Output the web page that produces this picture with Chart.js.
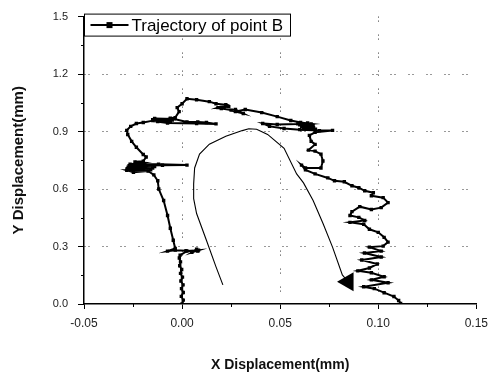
<!DOCTYPE html>
<html><head><meta charset="utf-8">
<script src="https://cdn.jsdelivr.net/npm/chart.js@4/dist/chart.umd.min.js"></script>
<style>html,body{margin:0;padding:0;background:#fff}#wrap{width:495px;height:374px}</style>
</head><body><div id="wrap"><canvas id="c" width="495" height="374"></canvas></div>
<script>
const seriesName = 'Trajectory of point B';
const xTitle = 'X Displacement(mm)';
const yTitle = 'Y Displacement(mm)';
const xTicks = [-0.05, 0.00, 0.05, 0.10, 0.15];
const yTicks = [0.0, 0.3, 0.6, 0.9, 1.2, 1.5];
const xMinor = [-0.025, 0.025, 0.075, 0.125];
const yMinor = [0.15, 0.45, 0.75, 1.05, 1.35];

// main (dense, marked) trajectory
const pathX = [
 0.000,0.0006,-0.0004,0.0006,-0.0003,0.0005,-0.0006,0.0002,-0.0008,-0.0002,-0.0012,-0.0008,-0.0014,-0.001,
 0.0025,0.0084,0.0050,0.0074,0.0080,0.0020,-0.0035,-0.0074,-0.0035,
 -0.0045,-0.006,-0.0074,-0.0094,-0.0119,-0.0124,-0.0144,
 -0.0173,-0.0248,-0.0282,-0.0160,-0.0280,-0.0150,-0.0275,-0.0140,-0.0270,-0.0100,0.0025,-0.0120,-0.0265,-0.0200,-0.0240,-0.0198,
 -0.0183,-0.0198,-0.0233,-0.0257,-0.0277,-0.0282,-0.0262,-0.0233,-0.0198,
 -0.0149,-0.0060,-0.0150,-0.0050,-0.0140,-0.0040,0.0025,0.0080,0.0124,0.0173,0.0074,-0.0074,-0.0124,-0.0060,
 -0.0035,-0.0015,-0.0025,0.000,0.0025,0.0074,0.0139,
 0.0173,0.0223,0.0183,0.0238,0.0200,0.0250,0.0272,0.0312,0.0272,0.0322,
 0.0406,0.0485,0.0554,0.0604,0.0658,0.0600,0.0668,0.0610,0.0670,0.0620,0.0680,0.0640,0.0590,
 0.0485,0.0411,0.0446,0.0520,0.0600,0.0700,0.0767,0.0678,
 0.0649,0.0658,0.0678,0.0644,0.0678,0.0708,0.0718,0.0708,0.0629,0.0609,0.0629,
 0.0678,0.0743,0.0777,0.0827,0.0866,0.0901,0.0931,0.0975,0.0965,0.1025,0.1050,0.1015,0.0965,
 0.0906,0.0866,0.0856,0.0901,0.0931,0.0856,0.0926,0.0955,0.1000,0.1030,0.1050,0.1025,0.0955,0.1015,0.0930,0.1015,0.0916,0.0995,0.0955,0.0896,
 0.0965,0.1030,0.0965,0.1050,0.0926,0.0980,0.1030,0.1080,0.1104,0.1114];
const pathY = [
 0.000,0.020,0.040,0.060,0.080,0.100,0.120,0.140,0.160,0.180,0.200,0.220,0.240,0.255,
 0.276,0.281,0.270,0.286,0.276,0.278,0.281,0.276,0.290,
 0.333,0.395,0.462,0.540,0.600,0.643,0.674,
 0.694,0.688,0.698,0.700,0.706,0.710,0.714,0.718,0.722,0.724,0.725,0.730,0.730,0.738,0.742,0.745,
 0.767,0.780,0.818,0.849,0.885,0.906,0.927,0.942,0.947,
 0.957,0.952,0.962,0.960,0.968,0.966,0.950,0.950,0.947,0.940,0.942,0.945,0.952,0.970,
 0.973,1.004,1.025,1.045,1.071,1.066,1.056,
 1.045,1.040,1.025,1.030,1.020,1.012,1.015,0.994,1.004,1.015,
 0.999,0.978,0.958,0.947,0.940,0.935,0.930,0.925,0.920,0.915,0.912,0.945,0.940,
 0.937,0.942,0.927,0.916,0.910,0.905,0.906,0.896,
 0.880,0.849,0.833,0.803,0.798,0.782,0.746,0.710,0.710,0.725,0.700,
 0.679,0.658,0.643,0.638,0.617,0.607,0.591,0.581,0.565,0.555,0.529,0.503,0.493,
 0.508,0.482,0.462,0.452,0.436,0.426,0.416,0.390,0.374,0.348,0.323,0.302,0.297,0.276,0.266,0.245,0.230,0.209,0.188,0.173,
 0.163,0.142,0.126,0.111,0.090,0.080,0.059,0.039,0.018,0.003];

// thin arched curve ending in the arrow-like mark
const curveX = [0.0208,0.0173,0.0124,0.0074,0.0059,0.0059,0.0064,0.0089,0.0139,0.0223,0.0307,0.0340,0.0380,0.0436,0.0520,0.0584,0.0619,0.0668,0.0718,0.0767,0.0817,0.0846];
const curveY = [0.100,0.194,0.333,0.472,0.550,0.627,0.710,0.782,0.834,0.875,0.905,0.915,0.912,0.885,0.813,0.679,0.632,0.540,0.421,0.297,0.152,0.116];

const FONT = "'Liberation Sans', Arial, sans-serif";
const toPts = (xs, ys) => xs.map((x, i) => ({x, y: ys[i]}));
const isArrow = c => c.dataIndex === curveX.length - 1;

const extras = {
  id: 'extras',
  afterDatasetsDraw(chart) {
    const ctx = chart.ctx, xs = chart.scales.x, ys = chart.scales.y;
    const a = chart.chartArea;
    ctx.save();
    ctx.strokeStyle = '#000'; ctx.lineWidth = 1;
    ctx.beginPath();
    yMinor.forEach(v => { const p = Math.round(ys.getPixelForValue(v)) + 0.5; ctx.moveTo(a.left - 3, p); ctx.lineTo(a.left, p); });
    xMinor.forEach(v => { const p = Math.round(xs.getPixelForValue(v)) + 0.5; ctx.moveTo(p, a.bottom); ctx.lineTo(p, a.bottom + 3); });
    ctx.stroke();
    const bx = a.left + 0.5, by = a.top - 2.5, bw = 206, bh = 22;
    ctx.fillStyle = '#fff';
    ctx.fillRect(bx, by, bw, bh);
    ctx.strokeRect(bx, by, bw, bh);
    const cy = by + bh / 2;
    ctx.lineWidth = 2;
    ctx.beginPath(); ctx.moveTo(bx + 6, cy); ctx.lineTo(bx + 44, cy); ctx.stroke();
    ctx.fillStyle = '#000';
    ctx.fillRect(bx + 22, cy - 3, 6, 6);
    ctx.font = '17px ' + FONT;
    ctx.textBaseline = 'middle';
    ctx.fillText(seriesName, bx + 47, cy + 1);
    ctx.restore();
  }
};

new Chart(document.getElementById('c'), {
  type: 'scatter',
  data: {
    datasets: [
      {
        label: seriesName,
        data: toPts(pathX, pathY),
        showLine: true,
        borderColor: '#000',
        borderWidth: 2,
        pointStyle: 'rect',
        pointRadius: 2.4,
        pointBackgroundColor: '#000',
        pointBorderWidth: 0,
        tension: 0
      },
      {
        label: seriesName + ' (curve)',
        data: toPts(curveX, curveY),
        showLine: true,
        borderColor: '#000',
        borderWidth: 1.1,
        pointStyle: 'triangle',
        pointRotation: -90,
        pointRadius: c => isArrow(c) ? 11 : 0,
        pointBackgroundColor: '#000',
        pointBorderWidth: 0,
        tension: 0
      }
    ]
  },
  options: {
    responsive: false,
    animation: false,
    devicePixelRatio: 1,
    layout: { padding: { left: 0, right: 7, top: 14, bottom: 0 } },
    plugins: { legend: { display: false }, tooltip: { enabled: false } },
    scales: {
      x: {
        type: 'linear', min: -0.05, max: 0.15,
        afterBuildTicks: s => { s.ticks = xTicks.map(v => ({ value: v })); },
        afterFit: s => { s.height = 70; },
        ticks: { callback: v => v.toFixed(2), color: '#222', font: { family: FONT, size: 12 }, padding: 7, maxRotation: 0, autoSkip: false },
        grid: {
          color: c => (c.tick && (c.tick.value <= -0.0499 || c.tick.value >= 0.1499)) ? 'rgba(0,0,0,0)' : '#333',
          lineWidth: 1, tickColor: '#000', tickLength: 5, drawTicks: true
        },
        border: { display: true, color: '#000', width: 1.5, dash: [1, 3, 1, 13] },
        title: { display: true, text: xTitle, color: '#111', font: { family: FONT, size: 14, weight: 'bold' }, padding: { top: 0, bottom: 0 } }
      },
      y: {
        type: 'linear', min: 0, max: 1.5,
        afterBuildTicks: s => { s.ticks = yTicks.map(v => ({ value: v })); },
        afterFit: s => { s.width = 84; },
        ticks: { callback: v => v.toFixed(1), color: '#222', font: { family: FONT, size: 11 }, padding: 10, autoSkip: false },
        grid: {
          color: c => (c.tick && (c.tick.value <= 0.0001 || c.tick.value >= 1.4999)) ? 'rgba(0,0,0,0)' : '#333',
          lineWidth: 1, tickColor: '#000', tickLength: 6, drawTicks: true
        },
        border: { display: true, color: '#000', width: 1.5, dash: [1, 3, 1, 13] },
        title: { display: true, text: yTitle, color: '#111', font: { family: FONT, size: 15, weight: 'bold' }, padding: { top: 10, bottom: 0 } }
      }
    }
  },
  plugins: [extras]
});
</script>
</body></html>
